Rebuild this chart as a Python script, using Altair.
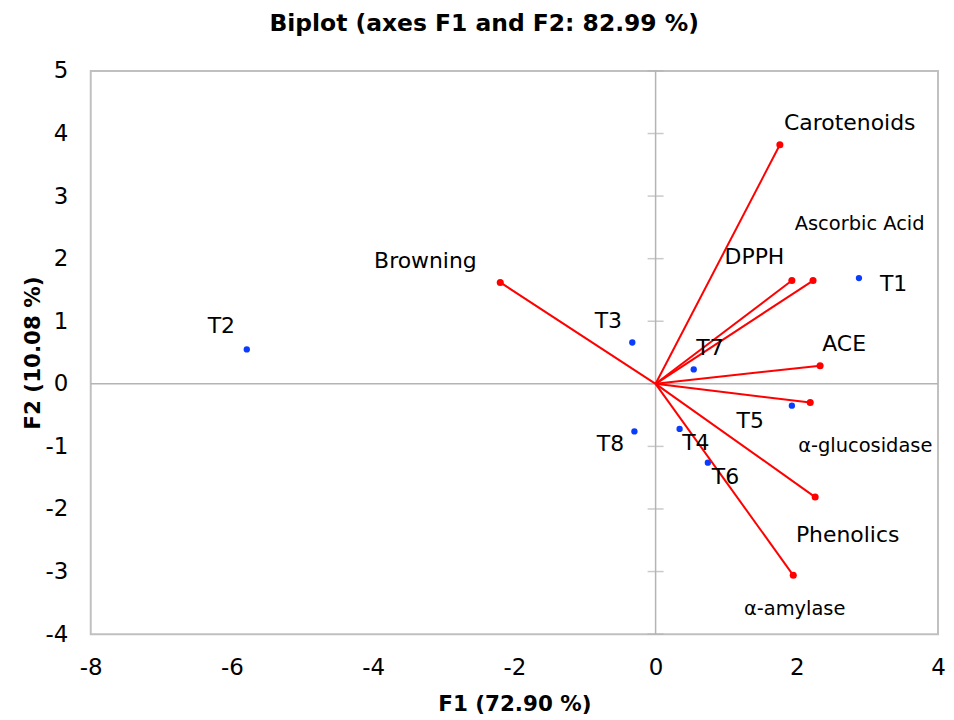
import altair as alt
import pandas as pd

# Variables (loadings, red vectors)
var_names = ["Carotenoids", "DPPH", "Ascorbic Acid", "ACE", "α-glucosidase",
             "Phenolics", "α-amylase", "Browning"]
var_f1 = [1.76, 1.93, 2.23, 2.33, 2.19, 2.26, 1.95, -2.20]
var_f2 = [3.82, 1.65, 1.65, 0.29, -0.30, -1.81, -3.06, 1.62]
var_label_f1 = [2.75, 1.40, 2.89, 2.67, 2.97, 2.72, 1.97, -3.26]
var_label_f2 = [4.16, 2.03, 2.56, 0.64, -1.00, -2.41, -3.60, 1.96]

# Observations (blue points)
obs_names = ["T1", "T2", "T3", "T4", "T5", "T6", "T7", "T8"]
obs_f1 = [2.88, -5.79, -0.33, 0.34, 1.93, 0.74, 0.54, -0.30]
obs_f2 = [1.69, 0.55, 0.66, -0.72, -0.35, -1.26, 0.23, -0.76]
obs_label_f1 = [3.37, -6.15, -0.67, 0.57, 1.34, 0.99, 0.77, -0.64]
obs_label_f2 = [1.59, 0.92, 1.01, -0.94, -0.60, -1.49, 0.58, -0.97]

small_labels = ["Ascorbic Acid", "α-glucosidase", "α-amylase"]

x_ticks = [-8, -6, -4, -2, 0, 2, 4]
y_ticks = [-4, -3, -2, -1, 0, 1, 2, 3, 4, 5]

title_text = "Biplot (axes F1 and F2: 82.99 %)"
x_title = "F1 (72.90 %)"
y_title = "F2 (10.08 %)"

FONT = "DejaVu Sans"

var_df = pd.DataFrame({"name": var_names, "F1": var_f1, "F2": var_f2,
                       "LF1": var_label_f1, "LF2": var_label_f2})
var_df["O1"] = 0
var_df["O2"] = 0
obs_df = pd.DataFrame({"name": obs_names, "F1": obs_f1, "F2": obs_f2,
                       "LF1": obs_label_f1, "LF2": obs_label_f2})
labels_df = pd.concat([var_df[["name", "LF1", "LF2"]],
                       obs_df[["name", "LF1", "LF2"]]], ignore_index=True)
ytick_df = pd.DataFrame({"F2": y_ticks, "zero": [0] * len(y_ticks)})
zero_df = pd.DataFrame({"zero": [0]})

xscale = alt.Scale(domain=[-8, 4], nice=False, zero=False)
yscale = alt.Scale(domain=[-4, 5], nice=False, zero=False)

xaxis = alt.Axis(values=x_ticks, title=x_title, grid=False, domain=False,
                 ticks=False, tickSize=0, labelPadding=23, titlePadding=14,
                 labelFlush=False, labelOverlap=False,
                 labelExpr="toString(datum.value)",
                 labelFont=FONT, labelFontSize=23, labelColor="#000000",
                 titleFont=FONT, titleFontSize=21.5, titleFontWeight="bold",
                 titleColor="#000000")
yaxis = alt.Axis(values=y_ticks, title=y_title, grid=False, domain=False,
                 ticks=False, tickSize=0, labelPadding=23, titlePadding=0,
                 labelFlush=False, labelOverlap=False,
                 labelExpr="toString(datum.value)",
                 labelFont=FONT, labelFontSize=23, labelColor="#000000",
                 titleFont=FONT, titleFontSize=21.5, titleFontWeight="bold",
                 titleColor="#000000")


def X(field):
    return alt.X(field, type="quantitative", scale=xscale, axis=xaxis)


def Y(field):
    return alt.Y(field, type="quantitative", scale=yscale, axis=yaxis)


gray = "#b4b4b4"

vline = alt.Chart(zero_df).mark_rule(color=gray, strokeWidth=1.5).encode(
    x=X("zero"))
hline = alt.Chart(zero_df).mark_rule(color=gray, strokeWidth=1.5).encode(
    y=Y("zero"))
yticks_marks = alt.Chart(ytick_df).mark_tick(
    orient="horizontal", size=16, thickness=1.5, color=gray).encode(
    x=X("zero"), y=Y("F2"))

vectors = alt.Chart(var_df).mark_rule(color="#ff0000", strokeWidth=2).encode(
    x=X("O1"), y=Y("O2"), x2="F1", y2="F2")
var_points = alt.Chart(var_df).mark_circle(color="#ff0000", size=50, opacity=1).encode(
    x=X("F1"), y=Y("F2"))
obs_points = alt.Chart(obs_df).mark_circle(color="#0a3cff", size=40, opacity=1).encode(
    x=X("F1"), y=Y("F2"))

big_text = alt.Chart(labels_df).transform_filter(
    ~alt.FieldOneOfPredicate(field="name", oneOf=small_labels)
).mark_text(font=FONT, fontSize=22, color="#000000", align="center",
            baseline="middle").encode(
    x=X("LF1"), y=Y("LF2"), text="name:N")
small_text = alt.Chart(labels_df).transform_filter(
    alt.FieldOneOfPredicate(field="name", oneOf=small_labels)
).mark_text(font=FONT, fontSize=19.5, color="#000000", align="center",
            baseline="middle").encode(
    x=X("LF1"), y=Y("LF2"), text="name:N")

chart = alt.layer(
    obs_points, vline, hline, yticks_marks, vectors, var_points, big_text, small_text
).properties(
    width=850, height=565,
    autosize=alt.AutoSizeParams(type="none"),
    padding={"left": 83, "top": 62, "right": 8, "bottom": 81},
    title=alt.TitleParams(title_text, font=FONT, fontSize=23.5, fontWeight="bold",
                          color="#000000", anchor="middle", frame="bounds",
                          offset=25),
).configure_view(stroke="#c0c0c0", strokeWidth=2)

chart.save("out.html", embed_options={"renderer": "svg", "actions": False})
